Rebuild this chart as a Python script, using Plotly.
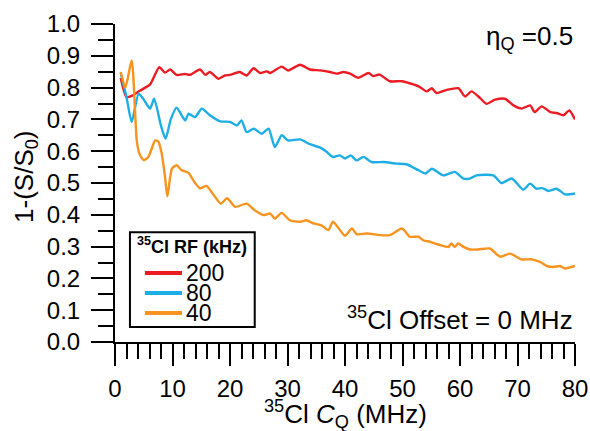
import plotly.graph_objects as go

# ---- data ----
x_200 = [1.0, 2.0, 3.0, 4.3, 6.1, 7.7, 8.7, 9.6, 10.7, 12.2, 13.0, 14.8, 15.7, 16.5, 18.0, 19.1, 20.0,
         21.7, 22.9, 24.1, 25.2, 26.4, 27.0, 29.0, 30.1, 32.2, 33.9, 35.7, 37.4, 38.6, 39.7, 40.9,
         42.3, 44.1, 44.9, 46.0, 47.8, 49.9, 52.8, 54.2, 55.1, 55.9, 57.7, 59.7, 60.9, 62.0, 63.5,
         64.6, 66.1, 67.8, 69.3, 70.7, 72.2, 73.0, 74.2, 75.7, 76.8, 78.0, 79.0, 80.0]
y_200 = [0.83, 0.77, 0.775, 0.79, 0.81, 0.864, 0.847, 0.857, 0.84, 0.843, 0.84, 0.857, 0.84, 0.849,
         0.828, 0.838, 0.84, 0.849, 0.838, 0.861, 0.846, 0.851, 0.846, 0.866, 0.854, 0.872, 0.857,
         0.854, 0.849, 0.844, 0.849, 0.844, 0.831, 0.846, 0.836, 0.841, 0.82, 0.82, 0.804, 0.788,
         0.798, 0.783, 0.793, 0.798, 0.772, 0.788, 0.767, 0.749, 0.762, 0.765, 0.744, 0.734, 0.744,
         0.723, 0.741, 0.723, 0.72, 0.713, 0.728, 0.70]

x_80 = [1.0, 2.0, 2.9, 4.1, 4.9, 6.1, 6.8, 8.0, 8.8, 9.7, 10.7, 12.2, 12.8, 13.9, 15.1, 16.5, 18.3,
        20.0, 21.2, 22.0, 22.9, 24.1, 25.5, 26.7, 27.8, 29.0, 30.1, 32.2, 33.9, 35.7, 36.8, 37.9,
        39.1, 40.0, 41.0, 42.0, 43.2, 44.6, 46.7, 49.0, 50.7, 52.8, 54.0, 55.1, 57.1, 59.1, 60.6,
        61.7, 62.9, 65.8, 67.2, 69.0, 71.0, 72.2, 73.3, 74.3, 75.4, 76.8, 78.3, 80.0]
y_80 = [0.846, 0.77, 0.692, 0.781, 0.765, 0.734, 0.765, 0.68, 0.639, 0.70, 0.737, 0.697, 0.718,
        0.707, 0.734, 0.713, 0.694, 0.692, 0.681, 0.697, 0.66, 0.671, 0.655, 0.671, 0.613, 0.65,
        0.634, 0.637, 0.622, 0.611, 0.598, 0.582, 0.587, 0.577, 0.587, 0.571, 0.582, 0.566, 0.566,
        0.561, 0.559, 0.54, 0.53, 0.545, 0.524, 0.535, 0.514, 0.514, 0.524, 0.524, 0.50, 0.514,
        0.479, 0.498, 0.482, 0.484, 0.475, 0.482, 0.464, 0.467]

x_40 = [1.0, 1.8, 2.9, 3.8, 4.3, 5.0, 5.8, 7.0, 7.5, 8.1, 8.7, 9.1, 9.9, 10.7, 11.6, 12.8, 13.6,
        14.8, 15.9, 17.1, 18.4, 19.5, 20.9, 22.9, 24.3, 25.8, 27.0, 27.8, 29.0, 30.4, 32.2, 33.3,
        34.5, 35.9, 37.1, 37.9, 38.8, 40.0, 41.2, 42.0, 43.8, 46.1, 47.8, 49.9, 51.3, 52.8, 53.6,
        54.8, 56.5, 58.0, 58.5, 59.1, 59.7, 60.6, 61.7, 63.2, 65.2, 67.0, 68.7, 70.7, 72.5, 73.9,
        75.1, 76.2, 77.4, 78.3, 80.0]
y_40 = [0.849, 0.80, 0.885, 0.63, 0.59, 0.572, 0.582, 0.634, 0.631, 0.595, 0.519, 0.458, 0.545,
        0.556, 0.54, 0.532, 0.509, 0.483, 0.491, 0.464, 0.435, 0.452, 0.425, 0.435, 0.414, 0.399,
        0.404, 0.388, 0.406, 0.383, 0.378, 0.383, 0.373, 0.367, 0.352, 0.378, 0.36, 0.334, 0.357,
        0.339, 0.341, 0.336, 0.336, 0.357, 0.331, 0.331, 0.32, 0.315, 0.305, 0.299, 0.31, 0.299,
        0.31, 0.299, 0.291, 0.291, 0.294, 0.268, 0.278, 0.26, 0.26, 0.252, 0.239, 0.236, 0.239,
        0.231, 0.239]

rf_labels = ["200", "80", "40"]
x_ticks = [0, 10, 20, 30, 40, 50, 60, 70, 80]
y_ticks = [0.0, 0.1, 0.2, 0.3, 0.4, 0.5, 0.6, 0.7, 0.8, 0.9, 1.0]

colors = ["#EC1C24", "#1EAEE6", "#F7931E"]
FONT = "Liberation Sans, Arial, Helvetica, sans-serif"

fig = go.Figure()
for xs, ys, name, c in zip([x_200, x_80, x_40], [y_200, y_80, y_40], rf_labels, colors):
    fig.add_trace(go.Scatter(x=xs, y=ys, mode="lines", name=name, showlegend=False,
                             line=dict(color=c, width=2.4, shape="spline", smoothing=0.6)))

fig.update_layout(
    width=590, height=431,
    margin=dict(l=115, r=15, t=24, b=89, autoexpand=False),
    paper_bgcolor="white", plot_bgcolor="white",
    font=dict(family=FONT, size=24, color="black"),
    showlegend=False,
)
fig.update_xaxes(
    range=[0, 80], tickvals=x_ticks, ticktext=[str(v) for v in x_ticks],
    showline=True, linewidth=2, linecolor="black", mirror=False, automargin=False,
    ticks="outside", ticklen=22, tickwidth=2, tickcolor="black",
    minor=dict(dtick=2, ticklen=15, tickwidth=2, tickcolor="black", ticks="outside", showgrid=False),
    showgrid=False, zeroline=False,
    tickfont=dict(size=24), ticklabelstandoff=2,
)
fig.update_yaxes(
    range=[0, 1], tickvals=y_ticks, ticktext=[f"{v:.1f}" for v in y_ticks],
    showline=True, linewidth=2, linecolor="black", automargin=False,
    ticks="outside", ticklen=22, tickwidth=2, tickcolor="black",
    minor=dict(dtick=0.05, ticklen=15, tickwidth=2, tickcolor="black", ticks="outside", showgrid=False),
    showgrid=False, zeroline=False,
    tickfont=dict(size=24), ticklabelstandoff=6,
)

# axis titles
fig.add_annotation(xref="paper", yref="paper", x=0.5, y=-0.163, xanchor="center", yanchor="top",
                   text="<sup>35</sup>Cl <i>C</i><sub>Q</sub> (MHz)", showarrow=False,
                   font=dict(size=26))
fig.add_annotation(xref="paper", yref="paper", x=-0.195, y=0.52, xanchor="center", yanchor="middle",
                   text="1-(S/S<sub>0</sub>)", showarrow=False, textangle=-90,
                   font=dict(size=26))

# annotations
fig.add_annotation(xref="paper", yref="paper", x=1.0, y=0.956, xanchor="right", yanchor="middle",
                   text="η<sub>Q</sub> =0.5", showarrow=False, font=dict(size=26))
fig.add_annotation(xref="paper", yref="paper", x=1.0, y=0.075, xanchor="right", yanchor="middle",
                   text="<sup>35</sup>Cl Offset = 0 MHz", showarrow=False, font=dict(size=26))

# legend box (drawn manually to match the compact reference legend)
fig.add_shape(type="rect", xref="x", yref="y", x0=2.6, x1=24.3, y0=0.047, y1=0.345,
              line=dict(color="black", width=2), fillcolor="white", layer="above")
fig.add_annotation(xref="x", yref="y", x=13.4, y=0.305, xanchor="center", yanchor="middle",
                   text="<b><sup>35</sup>Cl RF (kHz)</b>", showarrow=False, font=dict(size=18))
leg_y = [0.217, 0.154, 0.091]
for ly, name, c in zip(leg_y, rf_labels, colors):
    fig.add_shape(type="line", xref="x", yref="y", x0=5.2, x1=11.65, y0=ly, y1=ly,
                  line=dict(color=c, width=4), layer="above")
    fig.add_annotation(xref="x", yref="y", x=12.2, y=ly, xanchor="left", yanchor="middle",
                       text=name, showarrow=False, font=dict(size=23), borderpad=0)

fig.write_html("out.html", config={"displayModeBar": False},
               post_script="document.body.style.margin='0';document.body.style.padding='0';")
